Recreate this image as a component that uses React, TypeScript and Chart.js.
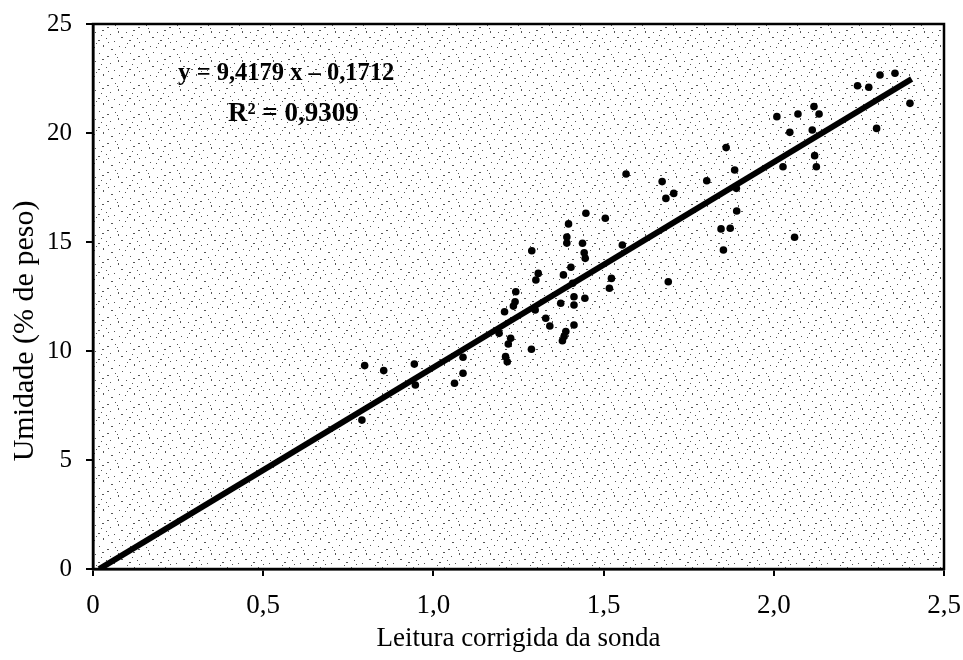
import React, { useEffect, useRef } from 'react';
import { Chart, registerables } from 'chart.js';

Chart.register(...registerables);

// Observed points: corrected probe reading (x) vs moisture % by weight (y)
const probeReading = [
  0.790, 0.798, 0.854, 0.944, 0.947, 1.062, 1.087, 1.087, 1.193, 1.209,
  1.212, 1.217, 1.220, 1.227, 1.235, 1.240, 1.242, 1.288, 1.289, 1.299,
  1.301, 1.308, 1.330, 1.342, 1.374, 1.379, 1.384, 1.389, 1.382, 1.392,
  1.392, 1.397, 1.404, 1.413, 1.413, 1.413, 1.409, 1.438, 1.443, 1.446,
  1.445, 1.448, 1.505, 1.517, 1.523, 1.555, 1.566, 1.672, 1.683, 1.706,
  1.690, 1.803, 1.845, 1.872, 1.852, 1.860, 1.885, 1.890, 1.891, 2.009,
  2.027, 2.047, 2.061, 2.071, 2.113, 2.118, 2.120, 2.125, 2.133, 2.246,
  2.279, 2.312, 2.356, 2.400, 2.302,
];
const moisture = [
  6.83, 9.33, 9.10, 9.40, 8.44, 8.52, 9.71, 8.98, 10.81, 11.80,
  9.74, 9.51, 10.32, 10.58, 12.06, 12.26, 12.72, 10.08, 14.60, 11.88,
  13.26, 13.56, 11.50, 11.15, 12.19, 10.47, 10.66, 10.89, 13.49, 15.23,
  14.95, 15.83, 13.84, 12.49, 12.11, 11.19, 13.11, 14.94, 14.51, 14.25,
  12.42, 16.32, 16.09, 12.88, 13.33, 14.86, 18.12, 17.77, 17.00, 17.23,
  13.18, 17.81, 15.60, 15.63, 14.63, 19.33, 18.30, 17.46, 16.42, 20.75,
  18.45, 20.03, 15.22, 20.87, 20.14, 21.21, 18.96, 18.45, 20.87, 22.17,
  22.10, 22.66, 22.74, 21.36, 20.21,
];

// Fitted trend line (as printed on the chart)
const slope = 9.4179;
const intercept = -0.1712;
const fitStartX = 0.0182;
const fitEndX = 2.405;

const xTickLabels = ['0', '0,5', '1,0', '1,5', '2,0', '2,5'];
const yTickLabels = ['0', '5', '10', '15', '20', '25'];

const equationVar = 'y';
const equationRest = ' = 9,4179 x \u2013 0,1712';
const r2Text = 'R\u00B2 = 0,9309';
const xTitle = 'Leitura corrigida da sonda';
const yTitle = 'Umidade (% de peso)';

// background stipple tile (scan texture), purely decorative
const stippleDots = [
  [2, 3, 1, 1], [9, 1, 2, 1], [17, 5, 1, 1], [25, 2, 1, 2], [5, 11, 2, 1],
  [13, 9, 1, 1], [21, 12, 1, 1], [28, 8, 2, 1], [1, 18, 1, 1], [10, 16, 1, 2],
  [18, 20, 2, 1], [26, 17, 1, 1], [6, 24, 1, 1], [14, 27, 2, 1], [22, 25, 1, 1],
  [29, 23, 1, 1], [3, 14, 1, 1], [15, 13, 1, 1], [24, 28, 1, 1], [8, 6, 1, 1],
];

const FONT = '"Liberation Serif", "Times New Roman", serif';

export default function App() {
  const canvasRef = useRef<HTMLCanvasElement | null>(null);

  useEffect(() => {
    document.body.style.margin = '0';
    const canvas = canvasRef.current;
    if (!canvas) return;

    const tile = document.createElement('canvas');
    tile.width = 31;
    tile.height = 29;
    const tctx = tile.getContext('2d')!;
    tctx.fillStyle = '#555';
    stippleDots.forEach(([x, y, w, h]) => tctx.fillRect(x, y, w, h));

    const decorPlugin = {
      id: 'decor',
      beforeDraw(chart: any) {
        const { ctx, chartArea } = chart;
        const pattern = ctx.createPattern(tile, 'repeat');
        ctx.save();
        ctx.fillStyle = '#fff';
        ctx.fillRect(0, 0, chart.width, chart.height);
        ctx.fillStyle = pattern;
        ctx.fillRect(chartArea.left, chartArea.top, chartArea.right - chartArea.left, chartArea.bottom - chartArea.top);
        ctx.restore();
      },
      afterDraw(chart: any) {
        const { ctx, chartArea } = chart;
        ctx.save();
        ctx.strokeStyle = '#000';
        ctx.lineWidth = 2.5;
        ctx.strokeRect(chartArea.left, chartArea.top, chartArea.right - chartArea.left, chartArea.bottom - chartArea.top);

        ctx.fillStyle = '#000';
        ctx.textBaseline = 'alphabetic';
        ctx.textAlign = 'left';
        ctx.font = `bold 25px ${FONT}`;
        ctx.fillText(equationVar, 178, 80);
        const w = ctx.measureText(equationVar).width;
        ctx.font = `bold 24.5px ${FONT}`;
        ctx.fillText(equationRest, 178 + w, 80);
        ctx.font = `bold 27px ${FONT}`;
        ctx.fillText(r2Text, 228, 121);

        ctx.translate(25, 331);
        ctx.rotate(-Math.PI / 2);
        ctx.textAlign = 'center';
        ctx.textBaseline = 'middle';
        ctx.font = `30px ${FONT}`;
        ctx.fillText(yTitle, 0, 0);
        ctx.restore();
      },
    };

    const points = probeReading.map((x, i) => ({ x, y: moisture[i] }));
    const fitLine = [
      { x: fitStartX, y: slope * fitStartX + intercept },
      { x: fitEndX, y: slope * fitEndX + intercept },
    ];

    const chart = new Chart(canvas, {
      type: 'scatter',
      data: {
        datasets: [
          {
            type: 'line',
            data: fitLine,
            borderColor: '#000',
            borderWidth: 6,
            pointRadius: 0,
            fill: false,
            order: 2,
          } as any,
          {
            data: points,
            backgroundColor: '#000',
            borderColor: '#000',
            pointRadius: 3.8,
            borderWidth: 0,
            order: 1,
          },
        ],
      },
      options: {
        animation: false,
        responsive: false,
        devicePixelRatio: 1,
        layout: { padding: { top: 24, right: 19, left: 0, bottom: 0 } },
        plugins: {
          legend: { display: false },
          tooltip: { enabled: false },
        },
        scales: {
          x: {
            type: 'linear',
            min: 0,
            max: 2.5,
            afterFit: (s: any) => { s.height = 91; s.paddingLeft = 0; s.paddingRight = 0; },
            border: { display: true, color: '#000', width: 2.5 },
            grid: { drawOnChartArea: false, color: '#000', lineWidth: 2, tickLength: 7 },
            ticks: {
              stepSize: 0.5,
              color: '#000',
              padding: 14,
              font: { family: FONT, size: 27 },
              callback: (v: any) => xTickLabels[Math.round(Number(v) / 0.5)] ?? '',
            },
            title: {
              display: true,
              text: xTitle,
              color: '#000',
              font: { family: FONT, size: 27 },
              padding: { top: 0, bottom: 5 },
            },
          },
          y: {
            type: 'linear',
            min: 0,
            max: 25,
            afterFit: (s: any) => { s.width = 93; s.paddingTop = 0; s.paddingBottom = 0; },
            border: { display: true, color: '#000', width: 2.5 },
            grid: { drawOnChartArea: false, color: '#000', lineWidth: 2, tickLength: 7 },
            ticks: {
              stepSize: 5,
              color: '#000',
              padding: 14,
              font: { family: FONT, size: 25 },
              callback: (v: any) => yTickLabels[Math.round(Number(v) / 5)] ?? '',
            },
          },
        },
      },
      plugins: [decorPlugin],
    });

    return () => chart.destroy();
  }, []);

  return (
    <div style={{ width: 963, height: 660 }}>
      <canvas ref={canvasRef} width={963} height={660} style={{ display: 'block' }} />
    </div>
  );
}
